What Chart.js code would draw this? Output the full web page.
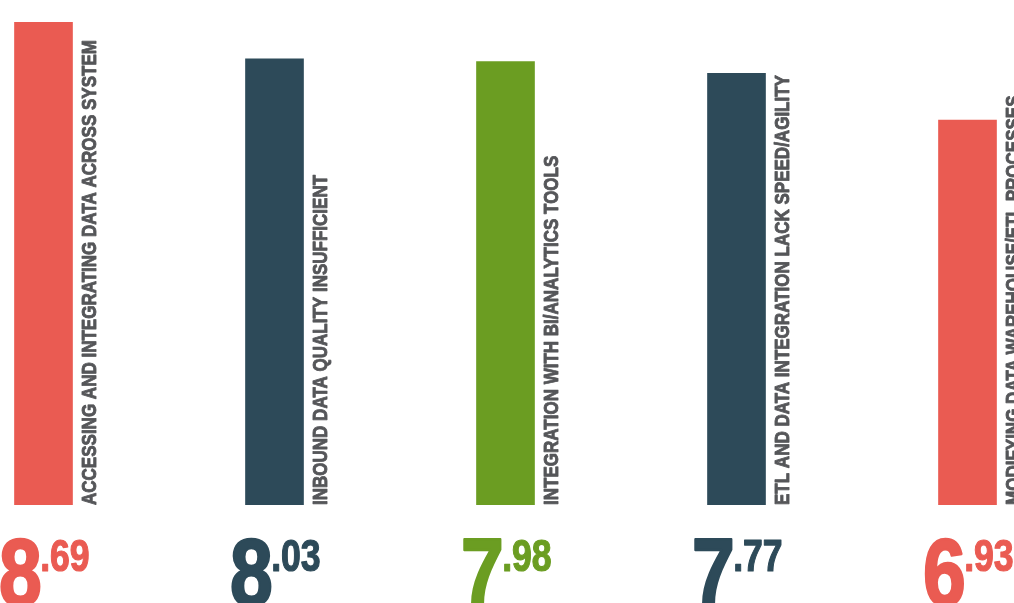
<!DOCTYPE html>
<html>
<head>
<meta charset="utf-8">
<script src="https://cdn.jsdelivr.net/npm/chart.js@4.4.1/dist/chart.umd.min.js"></script>
<style>
    html, body { margin: 0; padding: 0; background: #fff; overflow: hidden; }
    body { width: 1014px; height: 603px; position: relative; }
    #wrap { position: absolute; left: -72.5px; top: 0; width: 1155px; height: 603px; }
</style>
</head>
<body>
<div id="wrap"><canvas id="chart"></canvas></div>
<script>
// Data
const categories = [
    'ACCESSING AND INTEGRATING DATA ACROSS SYSTEM',
    'INBOUND DATA QUALITY INSUFFICIENT',
    'INTEGRATION WITH BI/ANALYTICS TOOLS',
    'ETL AND DATA INTEGRATION LACK SPEED/AGILITY',
    'MODIFYING DATA WAREHOUSE/ETL PROCESSES'
];
const scores = [8.69, 8.03, 7.98, 7.77, 6.93];

const barColors = ['#ea5b52', '#2d4a59', '#6b9d22', '#2d4a59', '#ea5b52'];
const FONT = '"Liberation Sans", Arial, sans-serif';
const SQUEEZE = 0.81; // no condensed face installed, so squash Liberation Sans

// Rotated labels beside each bar + big value under it
const barLabels = {
    id: 'barLabels',
    afterDatasetsDraw(chart) {
        const ctx = chart.ctx;
        const meta = chart.getDatasetMeta(0);
        const base = chart.scales.y.getPixelForValue(0);
        meta.data.forEach((bar, i) => {
            const right = bar.x + bar.width / 2;

            // category text, reading upward
            ctx.save();
            ctx.translate(right + 23.5, base);
            ctx.rotate(-Math.PI / 2);
            ctx.scale(SQUEEZE, 1);
            ctx.font = 'bold 21px ' + FONT;
            ctx.fillStyle = '#555659';
            ctx.strokeStyle = '#555659';
            ctx.lineWidth = 0.9;
            ctx.lineJoin = 'round';
            ctx.textAlign = 'left';
            ctx.textBaseline = 'alphabetic';
            ctx.fillText(categories[i], 0, 0);
            ctx.strokeText(categories[i], 0, 0);
            ctx.restore();

            // value: big integer, small decimals
            const parts = scores[i].toFixed(2).split('.');
            const whole = parts[0];
            const dec = '.' + parts[1];
            ctx.save();
            ctx.fillStyle = barColors[i];
            ctx.strokeStyle = barColors[i];
            ctx.lineJoin = 'round';
            ctx.textBaseline = 'alphabetic';
            ctx.textAlign = 'left';
            ctx.font = 'bold 95px ' + FONT;
            const w1 = ctx.measureText(whole).width;
            ctx.font = 'bold 44px ' + FONT;
            const w2 = ctx.measureText(dec).width;
            const x0 = bar.x - SQUEEZE * (w1 + w2) / 2;
            ctx.translate(x0, 0);
            ctx.scale(SQUEEZE, 1);
            ctx.font = 'bold 95px ' + FONT;
            ctx.lineWidth = 2.5;
            ctx.fillText(whole, 2, 605);
            ctx.strokeText(whole, 2, 605);
            ctx.font = 'bold 44px ' + FONT;
            ctx.lineWidth = 1.2;
            ctx.fillText(dec, w1, 571);
            ctx.strokeText(dec, w1, 571);
            ctx.restore();
        });
    }
};

new Chart(document.getElementById('chart'), {
    type: 'bar',
    data: {
        labels: categories,
        datasets: [{
            data: scores,
            backgroundColor: barColors,
            borderWidth: 0,
            barThickness: 58
        }]
    },
    options: {
        responsive: true,
        maintainAspectRatio: false,
        animation: false,
        layout: { padding: { top: 0, bottom: 98, left: 0, right: 0 } },
        plugins: {
            legend: { display: false },
            tooltip: { enabled: false }
        },
        scales: {
            x: { display: false },
            y: { display: false, min: 0, max: 9.09 }
        }
    },
    plugins: [barLabels]
});
</script>
</body>
</html>
